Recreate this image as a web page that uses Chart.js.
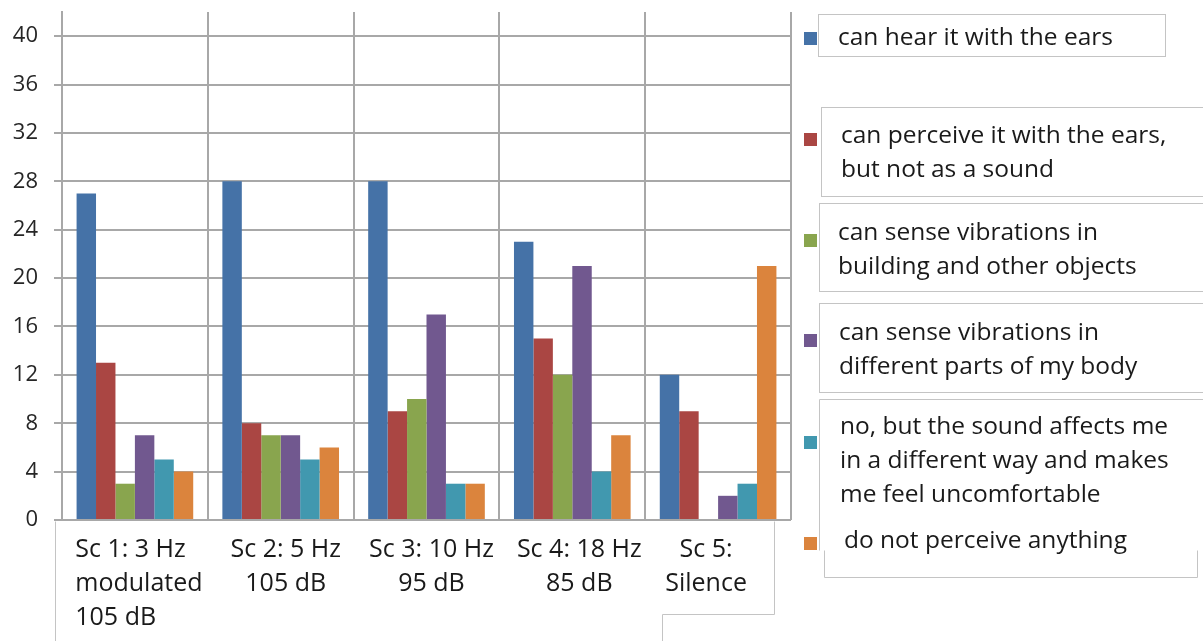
<!DOCTYPE html>
<html>
<head>
<meta charset="utf-8">
<script src="https://cdn.jsdelivr.net/npm/chart.js@4/dist/chart.umd.min.js"></script>
<style>
  html, body { margin: 0; padding: 0; background: #fff; }
  #wrap { width: 1203px; height: 641px; position: relative; }
</style>
</head>
<body>
<div id="wrap"><canvas id="perceptionChart"></canvas></div>
<script>
// ============================================================
// DATA
// ============================================================

const categories = [
  ["Sc 1: 3 Hz", "modulated", "105 dB"],
  ["Sc 2: 5 Hz", "105 dB"],
  ["Sc 3: 10 Hz", "95 dB"],
  ["Sc 4: 18 Hz", "85 dB"],
  ["Sc 5:", "Silence"]
];

const seriesLabels = [
  ["can hear it with the ears"],
  ["can perceive it with the ears,", "but not as a sound"],
  ["can sense vibrations in", "building and other objects"],
  ["can sense vibrations in", "different parts of my body"],
  ["no, but the sound affects me", "in a different way and makes", "me feel uncomfortable"],
  ["do not perceive anything"]
];

const hearWithEars     = [27, 28, 28, 23, 12];
const perceiveNotSound = [13, 8, 9, 15, 9];
const vibrBuilding     = [3, 7, 10, 12, 0];
const vibrBody         = [7, 7, 17, 21, 2];
const affectsMe        = [5, 5, 3, 4, 3];
const perceiveNothing  = [4, 6, 3, 7, 21];

const yTickValues = [0, 4, 8, 12, 16, 20, 24, 28, 32, 36, 40];

const seriesColors = ["#4572A7", "#AA4643", "#89A54E", "#71588F", "#4198AF", "#DB843D"];

// ============================================================
// LAYOUT (text boxes, legend)
// ============================================================

const FONT = "'Open Sans', 'DejaVu Sans', sans-serif";
const TEXT_COLOR = "#1a1a1a";
const BOX_COLOR = "#c4c4c4";
const GRID_COLOR = "#a8a8a8";

// each legend item: swatch top, first baseline, text x
const legendLayout = [
  { sy: 32,  by: 45,  tx: 838 },
  { sy: 133, by: 143, tx: 841 },
  { sy: 234, by: 240, tx: 838 },
  { sy: 334, by: 340, tx: 839 },
  { sy: 436, by: 434, tx: 840 },
  { sy: 537, by: 548, tx: 844 }
];

// nudges of x labels, relative to the category centre
const labelShift = [0, 5, 5, 7, -12];

function line(ctx, x1, y1, x2, y2) {
  ctx.beginPath();
  ctx.moveTo(x1 + 0.5, y1 + 0.5);
  ctx.lineTo(x2 + 0.5, y2 + 0.5);
  ctx.stroke();
}

const boxesPlugin = {
  id: "boxes",
  afterDraw(chart) {
    const ctx = chart.ctx;
    const xScale = chart.scales.x;
    ctx.save();

    // text boxes
    ctx.strokeStyle = BOX_COLOR;
    ctx.lineWidth = 1;
    // category label box
    line(ctx, 55, 521, 55, 641);
    line(ctx, 774, 521, 774, 614);
    line(ctx, 662, 614, 774, 614);
    line(ctx, 662, 614, 662, 641);
    // legend boxes
    ctx.strokeRect(818.5, 14.5, 347, 42);
    ctx.strokeRect(821.5, 107.5, 400, 89);
    ctx.strokeRect(819.5, 203.5, 400, 88);
    ctx.strokeRect(819.5, 303.5, 400, 89);
    line(ctx, 819, 399, 1203, 399);
    line(ctx, 819, 399, 819, 550);
    line(ctx, 824, 550, 824, 577);
    line(ctx, 824, 577, 1197, 577);
    line(ctx, 1197, 550, 1197, 577);

    // category labels
    ctx.fillStyle = TEXT_COLOR;
    ctx.font = "25px " + FONT;
    ctx.textBaseline = "alphabetic";
    categories.forEach(function(lines, i) {
      const cx = xScale.getPixelForValue(i) + labelShift[i];
      if (i === 0) {
        const w = Math.max.apply(null, lines.map(t => ctx.measureText(t).width));
        ctx.textAlign = "left";
        lines.forEach((t, k) => ctx.fillText(t, cx - w / 2 + 4, 557 + k * 34));
      } else {
        ctx.textAlign = "center";
        lines.forEach((t, k) => ctx.fillText(t, cx, 557 + k * 34));
      }
    });

    // legend
    ctx.font = "24.5px " + FONT;
    ctx.textAlign = "left";
    seriesLabels.forEach(function(lines, i) {
      const L = legendLayout[i];
      ctx.fillStyle = seriesColors[i];
      ctx.fillRect(804, L.sy, 13, 13);
      ctx.fillStyle = TEXT_COLOR;
      lines.forEach((t, k) => ctx.fillText(t, L.tx, L.by + k * 34));
    });

    ctx.restore();
  }
};

// ============================================================
// CHART.JS
// ============================================================

const seriesData = [hearWithEars, perceiveNotSound, vibrBuilding, vibrBody, affectsMe, perceiveNothing];

const ctx = document.getElementById("perceptionChart").getContext("2d");

const perceptionChart = new Chart(ctx, {
  type: "bar",
  data: {
    labels: categories,
    datasets: seriesData.map(function(values, i) {
      return {
        label: seriesLabels[i].join(" "),
        data: values,
        backgroundColor: seriesColors[i],
        borderWidth: 0,
        categoryPercentage: 0.8,
        barPercentage: 1.0
      };
    })
  },
  options: {
    responsive: true,
    maintainAspectRatio: false,
    animation: false,
    layout: { padding: { top: 12, right: 412, left: 0, bottom: 0 } },
    plugins: {
      legend: { display: false },
      tooltip: { enabled: false }
    },
    scales: {
      x: {
        offset: true,
        grid: { color: GRID_COLOR, lineWidth: 2, drawTicks: false, offset: true },
        border: { display: false },
        ticks: { display: false },
        afterFit: function(s) {
          s.height = 121;
          s.paddingTop = 0;
          s.paddingBottom = 0;
        }
      },
      y: {
        min: 0,
        max: 42,
        afterBuildTicks: function(s) {
          s.ticks = yTickValues.map(v => ({ value: v }));
        },
        grid: { color: GRID_COLOR, lineWidth: 2, tickLength: 8 },
        border: { color: GRID_COLOR, width: 2 },
        ticks: {
          padding: 16,
          color: "#262626",
          font: { family: FONT, size: 22 }
        },
        afterFit: function(s) {
          s.width = 62;
          s.paddingTop = 0;
          s.paddingBottom = 0;
        }
      }
    }
  },
  plugins: [boxesPlugin]
});
</script>
</body>
</html>
